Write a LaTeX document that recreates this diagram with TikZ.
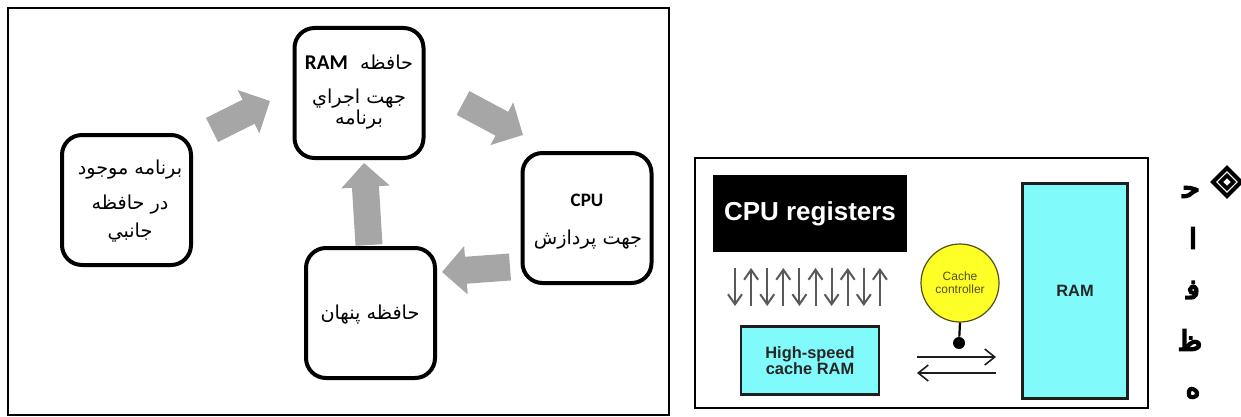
\documentclass[tikz,border=0pt]{standalone}
\usepackage{fontspec}
\setmainfont{Liberation Sans}
\newfontfamily\fa[Script=Arabic]{DejaVu Sans}
\newfontfamily\fabold[Script=Arabic,FakeBold=6]{DejaVu Sans}
\newfontfamily\calib{Carlito}
\TeXXeTstate=1
\usetikzlibrary{arrows.meta}
\definecolor{arrowgray}{RGB}{166,166,166}
\definecolor{lightcyan}{RGB}{128,250,250}
\definecolor{ctlyellow}{RGB}{255,255,40}
\definecolor{ctltext}{RGB}{80,80,20}
\definecolor{darkline}{RGB}{30,30,30}
\tikzset{
  frame/.style={draw=black, line width=0.75pt},
  stepbox/.style={draw=black, line width=2pt, rounded corners=10pt,
    minimum width=64.5pt, minimum height=65pt, inner sep=0pt},
  fatext/.style={font=\fa\fontsize{9.6}{11}\selectfont, inner sep=0pt},
  latbold/.style={font=\calib\bfseries\fontsize{9.5}{11}\selectfont, inner sep=0pt},
  blockarrow/.style={arrowgray, line width=13.5pt,
    -{Triangle[length=12pt, width=23.5pt]}},
  bus/.style={draw=black!65, line width=1pt, -{Straight Barb[length=5pt, width=7pt]}},
  hbus/.style={draw=darkline, line width=0.8pt, -{Straight Barb[length=5pt, width=8pt]}},
  cyanbox/.style={draw=darkline, fill=lightcyan, line width=1.2pt, inner sep=0pt,
    font=\bfseries\fontsize{8.2}{9.5}\selectfont, text=black!85, align=center},
  letter/.style={font=\fabold\fontsize{14}{16}\selectfont, inner sep=0pt}
}
\begin{document}
\begin{tikzpicture}[x=0.5pt, y=-0.5pt]
\useasboundingbox (0,0) rectangle (1241,417);
\fill[white] (0,0) rectangle (1241,417);

% ---------- left panel: program flow ----------
\draw[frame] (8,8) rectangle (669,415);

\node[stepbox] (ram)   at (359,93)    {};
\node[stepbox] (disk)  at (126.5,200) {};
\node[stepbox] (cpu)   at (587,218)   {};
\node[stepbox] (cache) at (370.5,313) {};

% labels of the boxes
\node[fatext] (ramA) at (359,62)  {\beginR حافظه\ \ \beginL{\calib\bfseries\fontsize{10.5}{12}\selectfont RAM}\endL\endR};
\node[fatext] (ramB) at (359,99)  {\beginR جهت اجراي\endR};
\node[fatext] (ramC) at (359,120) {\beginR برنامه\endR};

\node[fatext] (diskA) at (130,170) {\beginR برنامه موجود\endR};
\node[fatext] (diskB) at (130,205) {\beginR در حافظه\endR};
\node[fatext] (diskC) at (130,233) {\beginR جانبي\endR};

\node[latbold] (cpuA) at (587,200) {CPU};
\node[fatext]  (cpuB) at (588,240) {\beginR جهت پردازش\endR};

\node[fatext] (cacheA) at (370,315) {\beginR حافظه پنهان\endR};

% block arrows of the cycle
\coordinate (d2rS) at (212,130); \coordinate (d2rE) at (270,101);
\coordinate (r2cS) at (463,103); \coordinate (r2cE) at (523,135);
\coordinate (c2kS) at (510,267); \coordinate (c2kE) at (442,272);
\coordinate (k2rS) at (369,245); \coordinate (k2rE) at (364,163);
\draw[blockarrow] (d2rS) -- (d2rE);
\draw[blockarrow] (r2cS) -- (r2cE);
\draw[blockarrow] (c2kS) -- (c2kE);
\draw[blockarrow] (k2rS) -- (k2rE);

% ---------- right panel: cache organisation ----------
\draw[frame] (695,158) rectangle (1148,408);

\node[fill=black, text=white, minimum width=97pt, minimum height=38.5pt, inner sep=0pt,
      font=\bfseries\fontsize{13}{15}\selectfont] (regs) at (810,213.5) {CPU registers};

\node[cyanbox, minimum width=69pt, minimum height=34pt] (fast) at (810,360.5)
  {High-speed\\[-1.5pt]cache RAM};

\node[cyanbox, minimum width=52.5pt, minimum height=107.5pt] (mem) at (1075,291) {RAM};

% register <-> cache transfer arrows
\foreach \i in {0,...,4}{
  \coordinate (dn\i a) at ({735+32.2*\i},268);
  \coordinate (dn\i b) at ({735+32.2*\i},306);
  \coordinate (up\i a) at ({751.1+32.2*\i},306);
  \coordinate (up\i b) at ({751.1+32.2*\i},268);
  \draw[bus] (dn\i a) -- (dn\i b);
  \draw[bus] (up\i a) -- (up\i b);
}

% cache controller on the memory bus
\node[circle, draw=ctltext, line width=0.6pt, fill=ctlyellow, minimum size=39pt, inner sep=0pt,
      font=\fontsize{6}{6.8}\selectfont, text=ctltext, align=center] (ctl) at (960,283)
  {Cache\\[-0.5pt]controller};
\node[circle, fill=black, minimum size=6pt, inner sep=0pt] (tap) at (959,343) {};
\draw[line width=1.1pt] (ctl.south) -- (tap);
\coordinate (busAw) at (917,357); \coordinate (busAe) at (996,357);
\coordinate (busBw) at (917,373); \coordinate (busBe) at (996,373);
\draw[hbus] (busAw) -- (busAe);
\draw[hbus] (busBe) -- (busBw);

% ---------- vertical heading with bullet ----------
\draw[line width=2pt] (1227,168) -- (1241,182) -- (1227,196) -- (1213,182) -- cycle;
\draw[line width=1.8pt] (1227,175.5) -- (1233.5,182) -- (1227,188.5) -- (1220.5,182) -- cycle;
\node[letter] (h1) at (1191,192) {\beginR ح^^^^200d\endR};
\node[letter] (h2) at (1193,238) {\beginR ا\endR};
\node[letter] (h3) at (1193,290) {\beginR ف^^^^200d\endR};
\node[letter] (h4) at (1191,340) {\beginR ظ^^^^200d\endR};
\node[letter] (h5) at (1193,393) {\beginR ه\endR};
\end{tikzpicture}
\end{document}
